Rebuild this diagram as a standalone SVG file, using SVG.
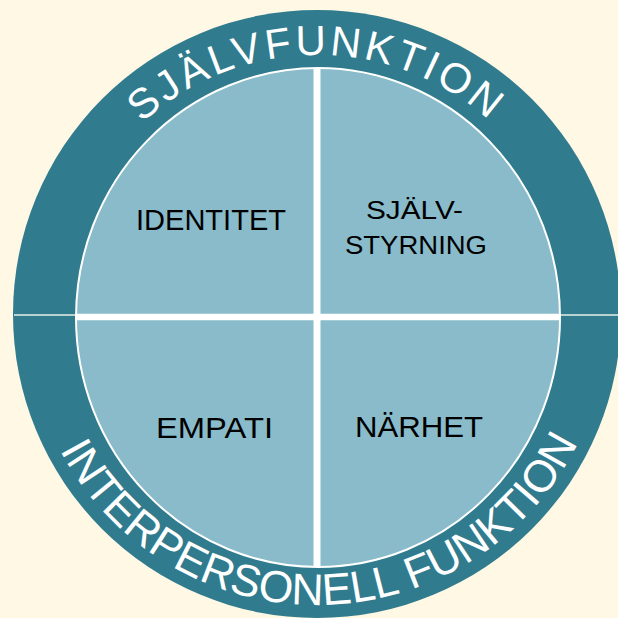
<svg xmlns="http://www.w3.org/2000/svg" width="618" height="618" viewBox="0 0 618 618">
<style>
.ring{fill:#307b8d}
.inner{fill:#89bbca;stroke:#ffffff;stroke-width:2}
.lbl{font-family:"Liberation Sans",Arial,sans-serif;fill:#000000}
.arc{font-family:"Liberation Sans",Arial,sans-serif;fill:#ffffff}
.div{stroke:#ffffff;fill:none}
</style>
<defs>
<path id="topArc" d="M 58 314 A 259 259 0 0 1 576 314"/>
<path id="botArc" d="M 26 314 A 291 291 0 0 0 608 314"/>
</defs>
<rect x="0" y="0" width="618" height="618" fill="#fef8e5"/>
<g id="ring">
<circle class="ring" cx="317" cy="314" r="304"/>
<line x1="14" y1="315" x2="618" y2="315" stroke="#e6efe6" stroke-width="1.5"/>
<text class="arc" font-size="42" letter-spacing="3.3" text-anchor="middle"><textPath href="#topArc" startOffset="406">SJÄLVFUNKTION</textPath></text>
<text class="arc" font-size="44.5" text-anchor="middle"><textPath href="#botArc" startOffset="461">INTERPERSONELL FUNKTION</textPath></text>
</g>
<g id="inner">
<ellipse class="inner" cx="318" cy="317.5" rx="242" ry="249.5"/>
</g>
<g id="connectors">
<line class="div" x1="317" y1="68" x2="317" y2="567" stroke-width="7"/>
<line class="div" x1="76" y1="317" x2="560" y2="317" stroke-width="6.5"/>
</g>
<g id="identitet"><text class="lbl" x="136" y="230" font-size="30" textLength="150" lengthAdjust="spacingAndGlyphs">IDENTITET</text></g>
<g id="sjalvstyrning">
<text class="lbl" x="366" y="219" font-size="26" textLength="97" lengthAdjust="spacingAndGlyphs">SJÄLV-</text>
<text class="lbl" x="345" y="254" font-size="26" textLength="142" lengthAdjust="spacingAndGlyphs">STYRNING</text>
</g>
<g id="empati"><text class="lbl" x="156" y="438" font-size="30" textLength="117" lengthAdjust="spacingAndGlyphs">EMPATI</text></g>
<g id="narhet"><text class="lbl" x="355" y="437" font-size="30" textLength="128" lengthAdjust="spacingAndGlyphs">NÄRHET</text></g>
</svg>
